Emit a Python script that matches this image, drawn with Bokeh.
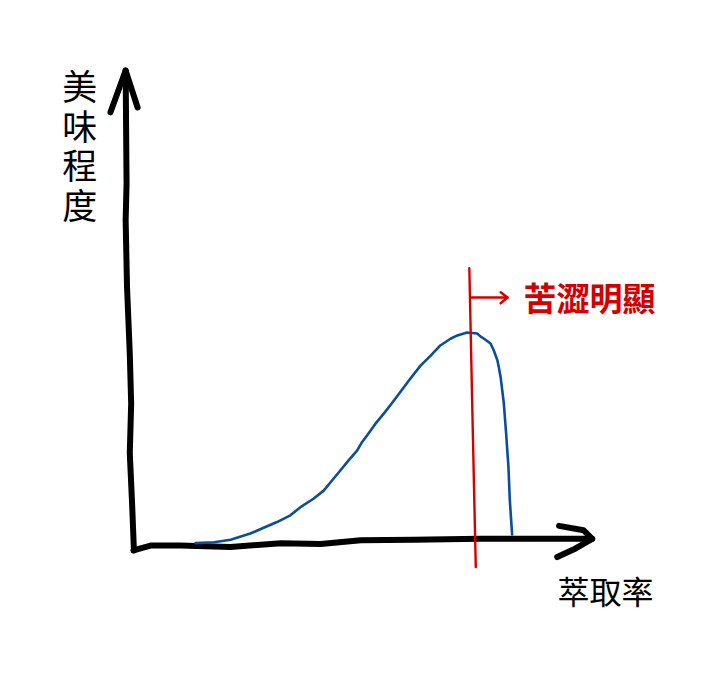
from bokeh.plotting import figure
from bokeh.models import Range1d
from bokeh.core.properties import value
from bokeh.embed import file_html
from bokeh.resources import INLINE

# 萃取率 vs 美味程度 (hand-drawn sketch, arbitrary units 0-100)
extraction = [13.5, 17.5, 21.1, 25.4, 28.3, 31.2, 34.1, 36.3, 39.2, 41.4,
              43.2, 45.0, 46.8, 48.6, 49.7, 50.8, 52.6, 54.4, 56.2, 58.0,
              60.2, 62.4, 64.6, 66.7, 68.9, 70.4, 72.5, 74.7, 75.4, 76.2,
              77.6, 78.3, 79.1, 79.4, 79.8, 80.5, 81.0, 81.5, 81.8, 82.3]
taste = [1.5, 1.7, 2.2, 3.5, 4.7, 5.9, 7.3, 9.0, 10.8, 12.5,
         14.6, 16.7, 18.8, 20.8, 22.6, 24.0, 26.4, 28.5, 30.7, 33.0,
         35.8, 38.5, 40.6, 42.7, 44.1, 44.8, 45.4, 45.2, 44.6, 44.1,
         43.1, 41.7, 39.6, 38.2, 36.1, 30.6, 24.3, 17.4, 10.4, 3.3]

# wobbly hand-drawn axes
x_axis_x = [0, 3.7, 10.2, 21.1, 32.0, 40.7, 49.4, 60.9, 75.4, 89.9, 99.7]
x_axis_y = [0, 1.0, 1.0, 0.7, 1.5, 1.3, 2.1, 2.2, 2.4, 2.4, 2.4]
x_head_x = [92.5, 97.8, 99.7, 96.1, 92.1]
x_head_y = [5.1, 4.2, 2.4, 0.4, -1.4]
y_axis_x = [0.1, -0.3, -0.8, -0.5, -0.8, -1.4, -1.7, -1.5, -1.7]
y_axis_y = [0, 9.8, 20.2, 30.6, 41.0, 54.9, 68.8, 76.5, 100]
y_head_x = [-5.0, -1.7, 0.9]
y_head_y = [91.3, 100, 92.3]

# bitterness threshold
bitter_x = [73.0, 73.7, 74.4]
bitter_y = [58.8, 27.1, -3.5]
bitter_arrow_x = [73.3, 81.3]
bitter_arrow_y = [52.7, 52.7]
bitter_head_x = [79.8, 81.3, 79.8]
bitter_head_y = [53.8, 52.7, 51.5]

y_label = "美味程度"
x_label = "萃取率"
bitter_label = "苦澀明顯"

FONT = "Noto Sans CJK TC"

p = figure(width=709, height=665, output_backend="svg", toolbar_location=None,
           tools="", x_axis_type=None, y_axis_type=None, min_border=0,
           x_range=Range1d(-28.9, 125.2), y_range=Range1d(-24.0, 114.6))
p.grid.visible = False
p.outline_line_color = None
p.background_fill_color = "white"

# axes
p.line(x_axis_x, x_axis_y, line_color="black", line_width=6,
       line_cap="round", line_join="round")
p.line(x_head_x, x_head_y, line_color="black", line_width=6,
       line_cap="round", line_join="round")
p.line(y_axis_x, y_axis_y, line_color="black", line_width=6,
       line_cap="round", line_join="round")
p.line(y_head_x, y_head_y, line_color="black", line_width=6,
       line_cap="round", line_join="round")

# curve
p.line(extraction, taste, line_color="#0a4d98", line_width=2.6,
       line_cap="round", line_join="round")

# red marker
p.line(bitter_x, bitter_y, line_color="#d40000", line_width=2.4, line_cap="round")
p.line(bitter_arrow_x, bitter_arrow_y, line_color="#d40000", line_width=2.4,
       line_cap="round")
p.line(bitter_head_x, bitter_head_y, line_color="#d40000", line_width=2.4,
       line_cap="round", line_join="round")
p.text(x=[84.8], y=[52.7], text=[bitter_label], text_color="#d40000",
       text_font=value(FONT), text_font_size="33px", text_font_style="bold",
       text_baseline="middle", text_align="left")

# labels
chars = list(y_label)
p.text(x=[-11.7] * len(chars), y=[97.1 - 8.25 * i for i in range(len(chars))],
       text=chars, text_color="black", text_font=value(FONT),
       text_font_size="35px", text_baseline="middle", text_align="center")
p.text(x=[102.6], y=[-8.3], text=[x_label], text_color="black",
       text_font=value(FONT), text_font_size="32px",
       text_baseline="middle", text_align="center")

open("out.html", "w").write(file_html(p, INLINE))
